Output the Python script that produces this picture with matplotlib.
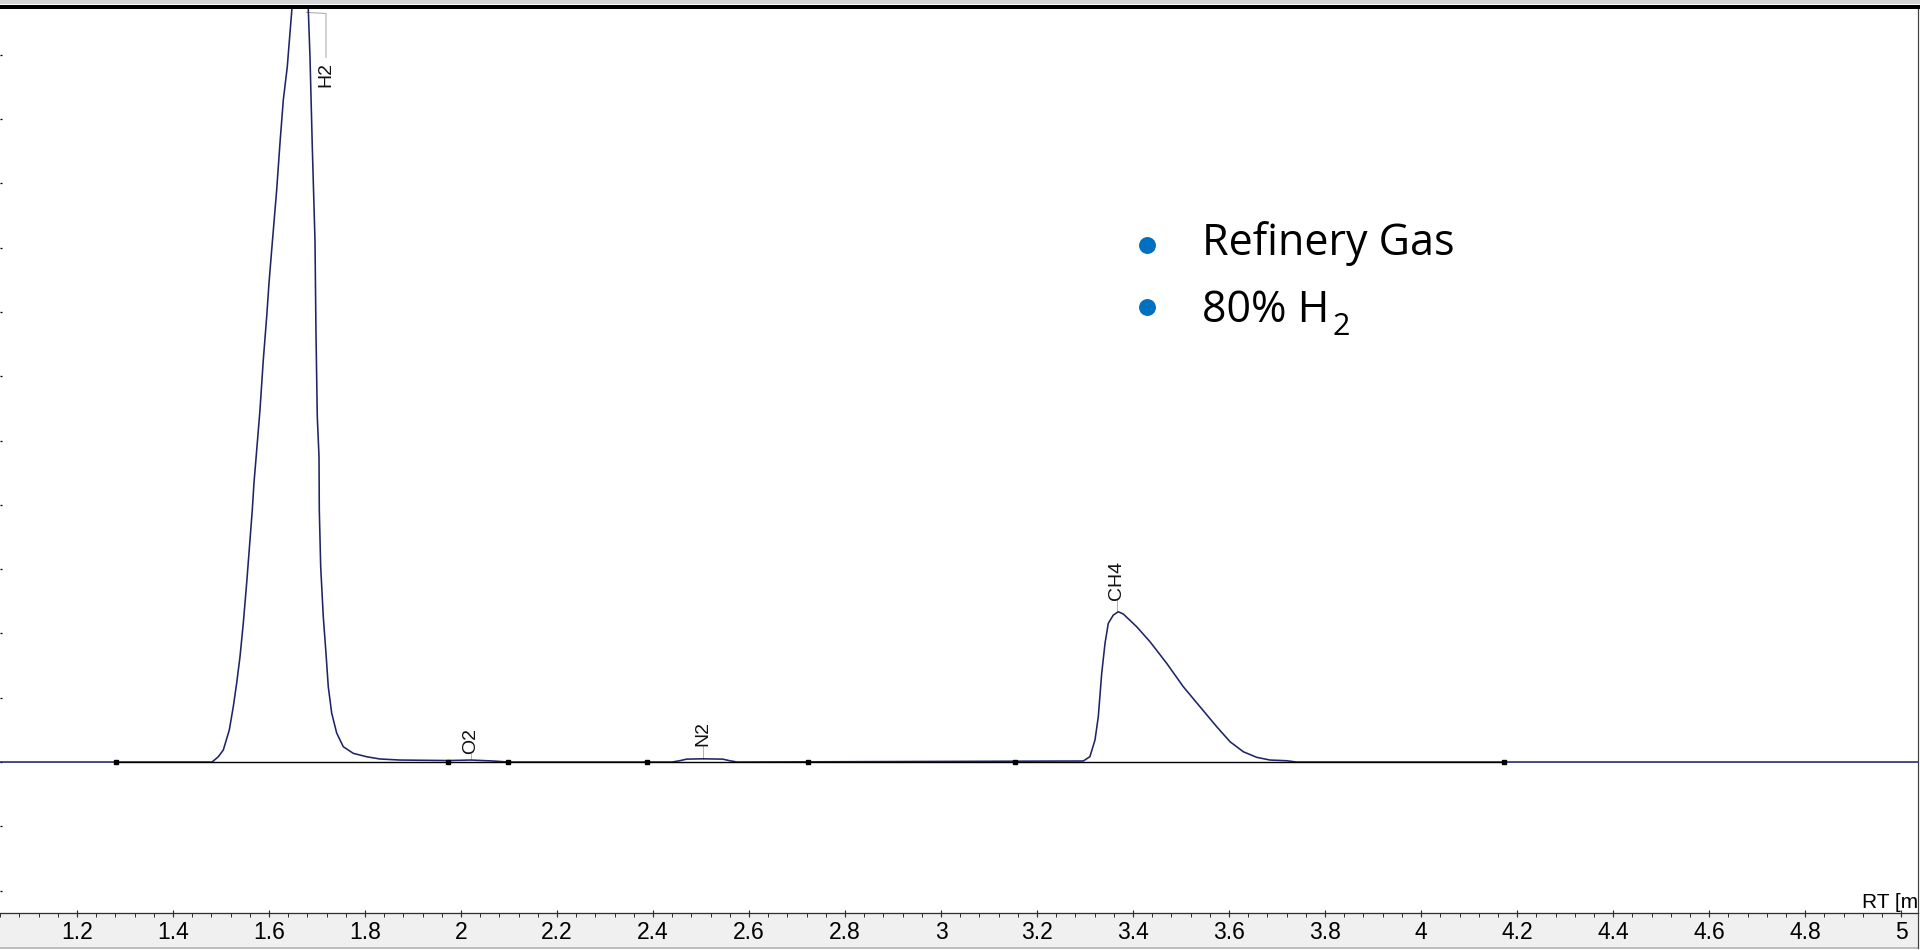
import matplotlib
matplotlib.use('Agg')
import matplotlib.pyplot as plt
from matplotlib.lines import Line2D
from matplotlib.patches import Rectangle
import numpy as np

# Trace: RT in min, signal in y-tick units (baseline = 0)
start_rt = [1.039, 1.481]
start_sig = [0.0, 0.0]

h2_rt = [1.4838, 1.4942, 1.5046, 1.5171, 1.5254, 1.5325, 1.5394, 1.5463, 1.5533,
         1.5602, 1.5650, 1.5685, 1.5742, 1.5810, 1.5879, 1.5950, 1.5998, 1.6054,
         1.6158, 1.6227, 1.6296, 1.6379, 1.6435, 1.6477, 1.6600, 1.6700, 1.6774,
         1.6817, 1.6852, 1.6900, 1.6956, 1.6977, 1.7004, 1.7040, 1.7046, 1.7075,
         1.7129, 1.7185, 1.7233, 1.7304, 1.7408, 1.7546, 1.7754, 1.8033, 1.8310,
         1.8727]
h2_sig = [0.016, 0.082, 0.187, 0.498, 0.860, 1.229, 1.638, 2.162, 2.784,
          3.453, 3.919, 4.339, 4.852, 5.474, 6.252, 6.925, 7.449, 7.963,
          8.896, 9.627, 10.295, 10.813, 11.337, 11.726, 12.70, 13.60, 12.60,
          11.695, 10.969, 9.569, 8.118, 6.672, 5.370, 4.748, 3.919, 3.037,
          2.260, 1.695, 1.171, 0.762, 0.451, 0.238, 0.135, 0.082, 0.047,
          0.031]

o2_rt = [1.973, 2.0206, 2.0664, 2.098]
o2_sig = [0.023, 0.031, 0.016, 0.0]

n2_rt = [2.440, 2.455, 2.470, 2.504, 2.545, 2.560, 2.575]
n2_sig = [0.0, 0.020, 0.045, 0.050, 0.045, 0.020, 0.0]

ch4_rt = [3.2963, 3.3100, 3.3206, 3.3275, 3.3346, 3.3415, 3.3483, 3.3588, 3.3692,
          3.3796, 3.4075, 3.4352, 3.4700, 3.5046, 3.5394, 3.5742, 3.6019, 3.6296,
          3.6575, 3.6852, 3.7200, 3.7400]
ch4_sig = [0.016, 0.083, 0.342, 0.705, 1.379, 1.846, 2.157, 2.286, 2.337,
           2.302, 2.104, 1.871, 1.535, 1.171, 0.860, 0.549, 0.316, 0.160,
           0.073, 0.031, 0.020, 0.0]

end_rt = [5.04]
end_sig = [0.0]

# Integration events (baseline drawn between them)
event_rt = [1.281, 1.973, 2.098, 2.387, 2.722, 3.153, 4.173]

# Peak labels
peak_names = ['O2', 'N2', 'CH4']
peak_rt = [2.0206, 2.5046, 3.3658]
leader_low = [0.031, 0.047, 2.348]
leader_high = [0.124, 0.249, 2.519]

h2_leader_rt = [1.6773, 1.7185, 1.7185]
h2_leader_sig = [11.66, 11.64, 10.96]

x_ticks = np.arange(1.2, 5.01, 0.2)
x_labels = [f'{round(v, 1):g}' for v in x_ticks]

W, H = 1920, 950
PX = 0.72  # points per pixel at dpi 100


def fx(x):
    return x / W


def fy(y):
    return 1 - y / H


rt = np.concatenate([start_rt, h2_rt, o2_rt, n2_rt, ch4_rt, end_rt])
signal = np.concatenate([start_sig, h2_sig, o2_sig, n2_sig, ch4_sig, end_sig])

fig = plt.figure(figsize=(W / 100, H / 100), dpi=100, facecolor='white')

# grey strip under the axis and the window edge lines
fig.add_artist(Rectangle((0, fy(947)), fx(1918), (947 - 913) / H, transform=fig.transFigure,
                         facecolor='#f0f0f0', edgecolor='none', zorder=-1))
fig.add_artist(Line2D([0, fx(1918)], [fy(948), fy(948)], transform=fig.transFigure,
                      color='#a8a8a8', lw=1.5 * PX))
fig.add_artist(Rectangle((0, fy(4)), 1, 4 / H, transform=fig.transFigure,
                         facecolor='#d6d6d6', edgecolor='none', zorder=-1))
fig.add_artist(Line2D([fx(1918), fx(1918)], [fy(948), fy(913)], transform=fig.transFigure,
                      color='#404040', lw=1.2 * PX))

ax = fig.add_axes([0, fy(913), fx(1918), (913 - 6.5) / H])
ax.set_xlim(1.0394, 5.0352)
ax.set_ylim(-2.348, 11.75)

# signal trace
ax.plot(rt, signal, color='#1f2466', lw=1.6 * PX, zorder=2)

# baseline with event markers
ax.plot([event_rt[0], event_rt[-1]], [0, 0], color='black', lw=1.4 * PX, zorder=3)
ax.plot(event_rt, np.zeros(len(event_rt)), ls='none', marker='s', ms=4 * PX,
        color='black', zorder=4)

# peak labels with leaders
label_font = ['Liberation Sans', 'DejaVu Sans']
for name, t, lo, hi in zip(peak_names, peak_rt, leader_low, leader_high):
    ax.plot([t, t], [lo, hi], color='#b4b4b4', lw=1.0 * PX, zorder=1)
    ax.text(t, hi, name, rotation=90, ha='center', va='bottom', fontsize=14,
            family=label_font, color='#111111')

ax.plot(h2_leader_rt, h2_leader_sig, color='#b4b4b4', lw=1.2 * PX, zorder=1)
ax.text(h2_leader_rt[-1] - 0.001, h2_leader_sig[-1] - 0.08, 'H2', rotation=90,
        ha='center', va='top', fontsize=14, family=label_font, color='#111111')

# axes styling
narrow = ['Liberation Sans Narrow', 'Liberation Sans', 'DejaVu Sans']
ax.spines['left'].set_visible(False)
ax.spines['top'].set_color('black')
ax.spines['top'].set_linewidth(4 * PX)
ax.spines['bottom'].set_color('#303030')
ax.spines['bottom'].set_linewidth(1.3 * PX)
ax.spines['right'].set_color('#404040')
ax.spines['right'].set_linewidth(1.2 * PX)

ax.set_xticks(x_ticks)
ax.set_xticklabels(x_labels, family=narrow)
ax.set_xticks(np.arange(1.04, 5.04, 0.04), minor=True)
ax.tick_params(axis='x', which='major', direction='inout', length=7 * PX,
               width=1.2 * PX, color='#303030', labelsize=16.5, pad=3.0,
               labelcolor='black')
ax.tick_params(axis='x', which='minor', direction='out', length=4 * PX,
               width=1.0 * PX, color='#303030')

ax.set_yticks(np.arange(-2, 12))
ax.tick_params(axis='y', direction='in', length=2.5 * PX, width=1.3 * PX,
               color='black', labelleft=False, left=True, right=False)

# axis title sits at the window edge and is cut there, as in the source
ax.text(1862 / 1918, (913 - 907.5) / 906.5, 'RT [min]', transform=ax.transAxes,
        ha='left', va='baseline', fontsize=15, family=narrow, color='black',
        clip_on=True)

# bullet list
bullet_blue = '#0070c0'
legend_font = ['Open Sans', 'DejaVu Sans']
for by in (245, 306.7):
    fig.add_artist(Line2D([fx(1146.7)], [fy(by)], transform=fig.transFigure,
                          marker='o', ms=15.5 * PX, color=bullet_blue, ls='none'))
fig.text(fx(1201.7), fy(255), 'Refinery Gas', ha='left', va='baseline',
         fontsize=31, family=legend_font, color='black')
fig.text(fx(1201.7), fy(321.7), '80% H', ha='left', va='baseline',
         fontsize=31, family=legend_font, color='black')
fig.text(fx(1333), fy(335), '2', ha='left', va='baseline',
         fontsize=22, family=legend_font, color='black')

fig.savefig('out.png', dpi=100, facecolor='white')
